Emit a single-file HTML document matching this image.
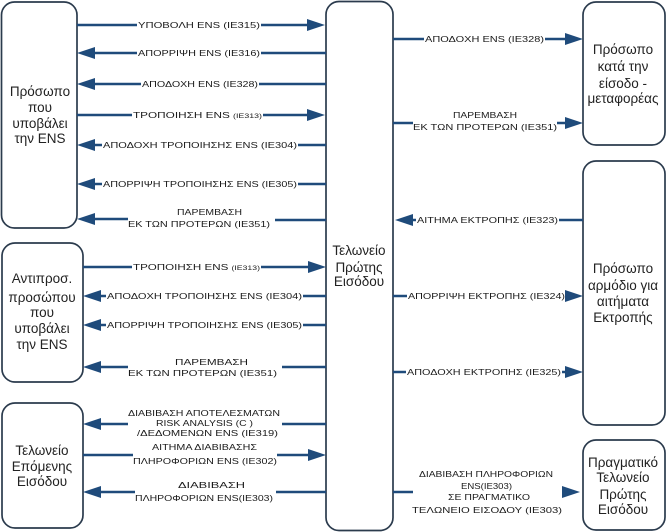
<!DOCTYPE html>
<html>
<head>
<meta charset="utf-8">
<style>
html,body{margin:0;padding:0;background:#fff;}
svg{display:block;}
.box{fill:#fff;stroke:#2b3b4d;stroke-width:1.7;}
.ln{stroke:#1f4b7b;stroke-width:2.5;fill:none;}
.ah{fill:#1f4b7b;}
.lb{font-family:"Liberation Sans","DejaVu Sans",sans-serif;font-size:8px;fill:#1a1a1a;}
.bt{font-family:"Liberation Sans","DejaVu Sans",sans-serif;font-size:13.5px;fill:#222;text-anchor:middle;}
.wb{fill:#fff;}
</style>
</head>
<body>
<svg width="668" height="532" viewBox="0 0 668 532" xmlns="http://www.w3.org/2000/svg">
<!-- boxes -->
<rect class="box" x="1.5" y="2" width="75.5" height="226" rx="13"/>
<rect class="box" x="2" y="243" width="81" height="139" rx="13"/>
<rect class="box" x="2" y="403" width="81" height="125" rx="13"/>
<rect class="box" x="326" y="1.5" width="67" height="529" rx="13"/>
<rect class="box" x="583" y="2" width="82" height="143" rx="13"/>
<rect class="box" x="583" y="161" width="82" height="264" rx="13"/>
<rect class="box" x="583" y="440" width="82" height="90" rx="13"/>

<!-- box texts -->
<text class="bt" x="40" y="96">Πρόσωπο</text>
<text class="bt" x="40" y="112">που</text>
<text class="bt" x="40" y="128">υποβάλει</text>
<text class="bt" x="40" y="143">την ENS</text>

<text class="bt" x="42" y="283">Αντιπροσ.</text>
<text class="bt" x="42" y="302">προσώπου</text>
<text class="bt" x="42" y="317">που</text>
<text class="bt" x="42" y="333">υποβάλει</text>
<text class="bt" x="42" y="349">την ENS</text>

<text class="bt" x="42" y="455">Τελωνείο</text>
<text class="bt" x="42" y="471">Επόμενης</text>
<text class="bt" x="42" y="486">Εισόδου</text>

<text class="bt" x="359" y="255">Τελωνείο</text>
<text class="bt" x="359" y="272">Πρώτης</text>
<text class="bt" x="359" y="286">Εισόδου</text>

<text class="bt" x="623" y="54">Πρόσωπο</text>
<text class="bt" x="623" y="71">κατά την</text>
<text class="bt" x="623" y="88">είσοδο -</text>
<text class="bt" x="623" y="103">μεταφορέας</text>

<text class="bt" x="623" y="273">Πρόσωπο</text>
<text class="bt" x="623" y="290">αρμόδιο για</text>
<text class="bt" x="623" y="306">αιτήματα</text>
<text class="bt" x="623" y="322">Εκτροπής</text>

<text class="bt" x="623" y="467">Πραγματικό</text>
<text class="bt" x="623" y="482">Τελωνείο</text>
<text class="bt" x="623" y="499">Πρώτης</text>
<text class="bt" x="623" y="514">Εισόδου</text>

<!-- left column arrows -->
<!-- 1 -->
<line class="ln" x1="77" y1="25" x2="308" y2="25"/>
<polygon class="ah" points="325,25 307,19 307,31"/>
<rect class="wb" x="137" y="20" width="124" height="10"/>
<text class="lb" x="138" y="28" textLength="122" lengthAdjust="spacingAndGlyphs">ΥΠΟΒΟΛΗ ENS (IE315)</text>
<!-- 2 -->
<line class="ln" x1="94" y1="53" x2="326" y2="53"/>
<polygon class="ah" points="77,53 95,47 95,59"/>
<rect class="wb" x="137" y="48" width="124" height="10"/>
<text class="lb" x="138" y="56" textLength="122" lengthAdjust="spacingAndGlyphs">ΑΠΟΡΡΙΨΗ ENS (IE316)</text>
<!-- 3 -->
<line class="ln" x1="94" y1="84" x2="326" y2="84"/>
<polygon class="ah" points="77,84 95,78 95,90"/>
<rect class="wb" x="141" y="79" width="118" height="10"/>
<text class="lb" x="142" y="87" textLength="116" lengthAdjust="spacingAndGlyphs">ΑΠΟΔΟΧΗ ENS (IE328)</text>
<!-- 4 -->
<line class="ln" x1="77" y1="115" x2="308" y2="115"/>
<polygon class="ah" points="325,115 307,109 307,121"/>
<rect class="wb" x="132" y="110" width="131" height="10"/>
<text class="lb" x="133" y="118" textLength="129" lengthAdjust="spacingAndGlyphs">ΤΡΟΠΟΙΗΣΗ ENS  <tspan font-size="6">(IE313)</tspan></text>
<!-- 5 -->
<line class="ln" x1="94" y1="145" x2="326" y2="145"/>
<polygon class="ah" points="77,145 95,139 95,151"/>
<rect class="wb" x="102" y="140" width="196" height="10"/>
<text class="lb" x="103" y="148" textLength="194" lengthAdjust="spacingAndGlyphs">ΑΠΟΔΟΧΗ ΤΡΟΠΟΙΗΣΗΣ ENS  (IE304)</text>
<!-- 6 -->
<line class="ln" x1="94" y1="184" x2="326" y2="184"/>
<polygon class="ah" points="77,184 95,178 95,190"/>
<rect class="wb" x="102" y="179" width="196" height="10"/>
<text class="lb" x="103" y="187" textLength="194" lengthAdjust="spacingAndGlyphs">ΑΠΟΡΡΙΨΗ ΤΡΟΠΟΙΗΣΗΣ ENS (IE305)</text>
<!-- 7 -->
<line class="ln" x1="94" y1="219" x2="128" y2="219"/>
<line class="ln" x1="275" y1="220" x2="326" y2="220"/>
<polygon class="ah" points="77,219 95,213 95,225"/>
<text class="lb" x="177" y="215" textLength="65" lengthAdjust="spacingAndGlyphs">ΠΑΡΕΜΒΑΣΗ</text>
<text class="lb" x="128" y="227" textLength="142" lengthAdjust="spacingAndGlyphs">ΕΚ ΤΩΝ ΠΡΟΤΕΡΩΝ (IE351)</text>

<!-- second left box arrows -->
<!-- 8 -->
<line class="ln" x1="83" y1="267" x2="309" y2="267"/>
<polygon class="ah" points="326,267 308,261 308,273"/>
<rect class="wb" x="132" y="262" width="129" height="10"/>
<text class="lb" x="133" y="270" textLength="127" lengthAdjust="spacingAndGlyphs">ΤΡΟΠΟΙΗΣΗ ENS  <tspan font-size="6">(IE313)</tspan></text>
<!-- 9 -->
<line class="ln" x1="100" y1="296" x2="326" y2="296"/>
<polygon class="ah" points="83,296 101,290 101,302"/>
<rect class="wb" x="106" y="291" width="197" height="10"/>
<text class="lb" x="107" y="299" textLength="195" lengthAdjust="spacingAndGlyphs">ΑΠΟΔΟΧΗ ΤΡΟΠΟΙΗΣΗΣ ENS  (IE304)</text>
<!-- 10 -->
<line class="ln" x1="100" y1="325" x2="326" y2="325"/>
<polygon class="ah" points="83,325 101,319 101,331"/>
<rect class="wb" x="106" y="320" width="197" height="10"/>
<text class="lb" x="107" y="328" textLength="195" lengthAdjust="spacingAndGlyphs">ΑΠΟΡΡΙΨΗ ΤΡΟΠΟΙΗΣΗΣ ENS (IE305)</text>
<!-- 11 -->
<line class="ln" x1="100" y1="367" x2="128" y2="367"/>
<line class="ln" x1="282" y1="367" x2="326" y2="367"/>
<polygon class="ah" points="83,367 101,361 101,373"/>
<text class="lb" x="175" y="365" textLength="73" lengthAdjust="spacingAndGlyphs">ΠΑΡΕΜΒΑΣΗ</text>
<text class="lb" x="128" y="376" textLength="149" lengthAdjust="spacingAndGlyphs">ΕΚ ΤΩΝ ΠΡΟΤΕΡΩΝ (IE351)</text>

<!-- third left box arrows -->
<!-- 12 -->
<line class="ln" x1="100" y1="424" x2="128" y2="424"/>
<line class="ln" x1="282" y1="424" x2="326" y2="424"/>
<polygon class="ah" points="83,424 101,418 101,430"/>
<text class="lb" x="128" y="416" textLength="152" lengthAdjust="spacingAndGlyphs">ΔΙΑΒΙΒΑΣΗ ΑΠΟΤΕΛΕΣΜΑΤΩΝ</text>
<text class="lb" x="156" y="426" textLength="97" lengthAdjust="spacingAndGlyphs">RISK ANALYSIS (C )</text>
<text class="lb" x="137" y="436" textLength="141" lengthAdjust="spacingAndGlyphs">/ΔΕΔΟΜΕΝΩΝ ENS (IE319)</text>
<!-- 13 -->
<line class="ln" x1="83" y1="455" x2="133" y2="455"/>
<line class="ln" x1="277" y1="455" x2="309" y2="455"/>
<polygon class="ah" points="326,455 308,449 308,461"/>
<text class="lb" x="152" y="450" textLength="105" lengthAdjust="spacingAndGlyphs">ΑΙΤΗΜΑ ΔΙΑΒΙΒΑΣΗΣ</text>
<text class="lb" x="133" y="464" textLength="144" lengthAdjust="spacingAndGlyphs">ΠΛΗΡΟΦΟΡΙΩΝ ENS  (IE302)</text>
<!-- 14 -->
<line class="ln" x1="100" y1="492" x2="135" y2="492"/>
<line class="ln" x1="276" y1="492" x2="326" y2="492"/>
<polygon class="ah" points="83,492 101,486 101,498"/>
<text class="lb" x="178" y="488" textLength="67" lengthAdjust="spacingAndGlyphs">ΔΙΑΒΙΒΑΣΗ</text>
<text class="lb" x="135" y="501" textLength="138" lengthAdjust="spacingAndGlyphs">ΠΛΗΡΟΦΟΡΙΩΝ ENS(IE303)</text>

<!-- right side arrows -->
<!-- R1 -->
<line class="ln" x1="393" y1="39" x2="566" y2="39"/>
<polygon class="ah" points="583,39 565,33 565,45"/>
<rect class="wb" x="424" y="34" width="121" height="10"/>
<text class="lb" x="425" y="42" textLength="119" lengthAdjust="spacingAndGlyphs">ΑΠΟΔΟΧΗ ENS  (IE328)</text>
<!-- R2 -->
<line class="ln" x1="393" y1="123" x2="413" y2="123"/>
<line class="ln" x1="557" y1="123" x2="566" y2="123"/>
<polygon class="ah" points="583,123 565,117 565,129"/>
<text class="lb" x="453" y="118" textLength="64" lengthAdjust="spacingAndGlyphs">ΠΑΡΕΜΒΑΣΗ</text>
<text class="lb" x="413" y="130" textLength="144" lengthAdjust="spacingAndGlyphs">ΕΚ ΤΩΝ ΠΡΟΤΕΡΩΝ (IE351)</text>
<!-- R3 -->
<line class="ln" x1="412" y1="220" x2="583" y2="220"/>
<polygon class="ah" points="395,220 413,214 413,226"/>
<rect class="wb" x="416" y="215" width="143" height="10"/>
<text class="lb" x="417" y="223" textLength="141" lengthAdjust="spacingAndGlyphs">ΑΙΤΗΜΑ ΕΚΤΡΟΠΗΣ (IE323)</text>
<!-- R4 -->
<line class="ln" x1="393" y1="296" x2="566" y2="296"/>
<polygon class="ah" points="583,296 565,290 565,302"/>
<rect class="wb" x="407" y="291" width="158" height="10"/>
<text class="lb" x="408" y="299" textLength="157" lengthAdjust="spacingAndGlyphs">ΑΠΟΡΡΙΨΗ ΕΚΤΡΟΠΗΣ (IE324)</text>
<!-- R5 -->
<line class="ln" x1="393" y1="372" x2="566" y2="372"/>
<polygon class="ah" points="583,372 565,366 565,378"/>
<rect class="wb" x="406" y="367" width="156" height="10"/>
<text class="lb" x="407" y="375" textLength="154" lengthAdjust="spacingAndGlyphs">ΑΠΟΔΟΧΗ ΕΚΤΡΟΠΗΣ (IE325)</text>
<!-- R6 -->
<line class="ln" x1="393" y1="492" x2="413" y2="492"/>
<polygon class="ah" points="580,492 562,486 562,498"/>
<text class="lb" x="419" y="477" textLength="134" lengthAdjust="spacingAndGlyphs">ΔΙΑΒΙΒΑΣΗ ΠΛΗΡΟΦΟΡΙΩΝ</text>
<text class="lb" x="461" y="489" textLength="51" lengthAdjust="spacingAndGlyphs">ENS(IE303)</text>
<text class="lb" x="448" y="500" textLength="82" lengthAdjust="spacingAndGlyphs">ΣΕ ΠΡΑΓΜΑΤΙΚΟ</text>
<text class="lb" x="412" y="513" textLength="150" lengthAdjust="spacingAndGlyphs">ΤΕΛΩΝΕΙΟ ΕΙΣΟΔΟΥ   (IE303)</text>
</svg>
</body>
</html>
